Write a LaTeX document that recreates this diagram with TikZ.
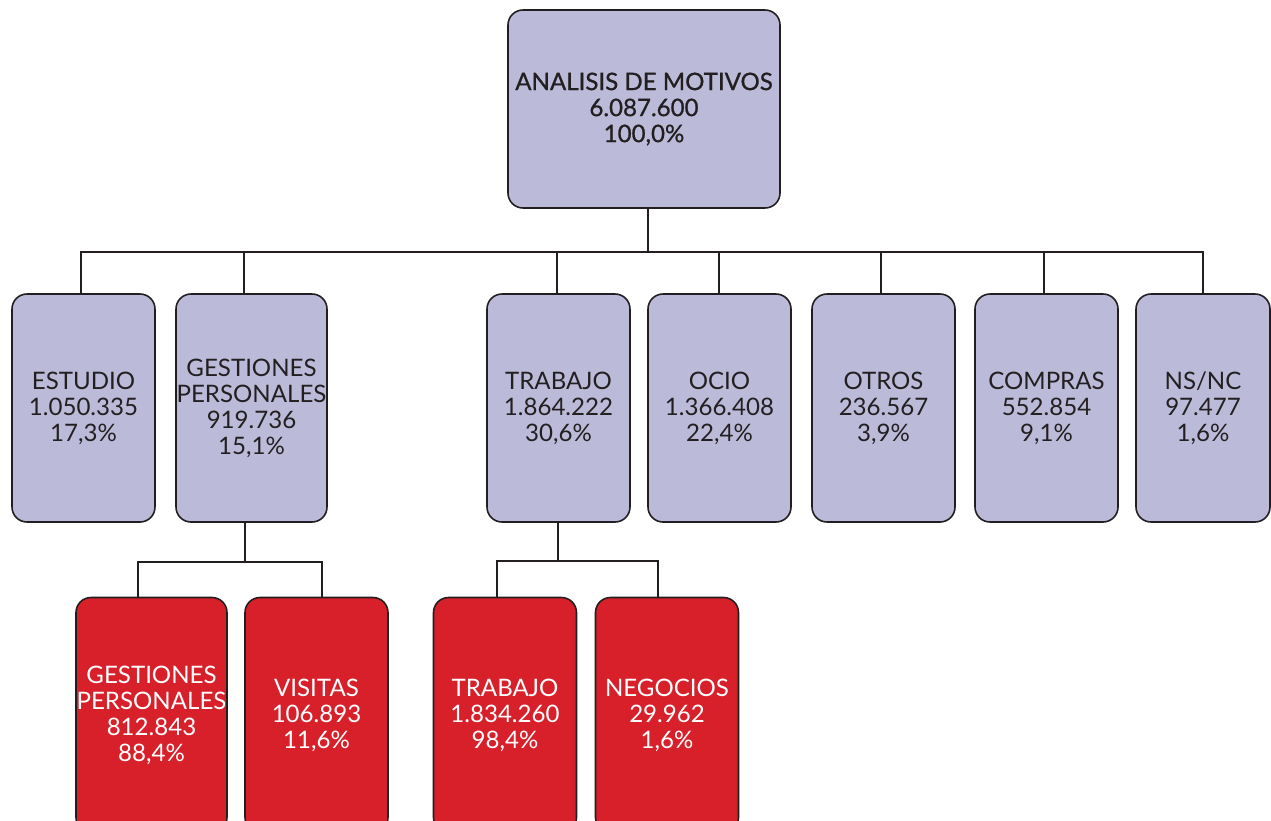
\documentclass[tikz,border=0pt]{standalone}
\usepackage{fontspec}
\setmainfont{Lato}
\newfontfamily\rootfont[FakeBold=0.9]{Lato}
\usepackage{tikz}
\definecolor{hexcolor0xbbbbd9}{rgb}{0.733,0.733,0.851}
\definecolor{hexcolor0xd8202a}{rgb}{0.847,0.125,0.165}
\definecolor{myblack}{rgb}{0.137,0.122,0.125}
\definecolor{mywhite}{rgb}{1.000,1.000,1.000}
\tikzstyle{box}=[rectangle,rounded corners=0.3cm,draw=myblack,line width=0.9pt,align=center,inner sep=0pt,font=\fontsize{13.7}{14.8}\selectfont]
\tikzstyle{setA}=[box,fill=hexcolor0xbbbbd9,text=myblack,minimum width=2.86cm,minimum height=4.56cm]
\tikzstyle{setB}=[box,fill=hexcolor0xd8202a,text=mywhite,minimum width=2.86cm,minimum height=4.7cm]
\tikzstyle{edge}=[draw=myblack,line width=1pt]

\begin{document}
\begin{tikzpicture}
	\useasboundingbox (0,0) rectangle (25.42,-16.42);
	\clip (0,0) rectangle (25.42,-16.42);
	% root
	\node [style=setA,minimum width=5.44cm,minimum height=3.96cm,font=\rootfont\fontsize{13.7}{14.8}\selectfont] (0) at (12.88,-2.18) {ANALISIS DE MOTIVOS\\6.087.600\\100,0\%};
	% first level
	\node [style=setA] (1) at (1.67,-8.16) {ESTUDIO\\1.050.335\\17,3\%};
	\node [style=setA,minimum width=3.02cm] (2) at (5.03,-8.16) {GESTIONES\\PERSONALES\\919.736\\15,1\%};
	\node [style=setA] (3) at (11.17,-8.16) {TRABAJO\\1.864.222\\30,6\%};
	\node [style=setA] (4) at (14.39,-8.16) {OCIO\\1.366.408\\22,4\%};
	\node [style=setA] (5) at (17.67,-8.16) {OTROS\\236.567\\3,9\%};
	\node [style=setA] (6) at (20.93,-8.16) {COMPRAS\\552.854\\9,1\%};
	\node [style=setA,minimum width=2.68cm] (7) at (24.06,-8.16) {NS/NC\\97.477\\1,6\%};
	% second level
	\node [style=setB,minimum width=3.02cm] (8) at (3.03,-14.30) {GESTIONES\\PERSONALES\\812.843\\88,4\%};
	\node [style=setB] (9) at (6.33,-14.30) {VISITAS\\106.893\\11,6\%};
	\node [style=setB] (10) at (10.10,-14.30) {TRABAJO\\1.834.260\\98,4\%};
	\node [style=setB] (11) at (13.34,-14.30) {NEGOCIOS\\29.962\\1,6\%};

	\coordinate (b0) at (12.96,-5.04);
	\coordinate (b2) at (4.90,-11.24);
	\coordinate (b3) at (11.16,-11.22);
	\draw [style=edge] (b0 |- 0.south) -- (b0);
	\foreach \n/\s in {1/-0.05,2/-0.15,3/-0.03,4/-0.01,5/-0.05,6/-0.05,7/0}
		\draw [style=edge] (b0) -| ([xshift=\s cm]\n.north);
	\draw [style=edge] (b2 |- 2.south) -- (b2);
	\draw [style=edge] (b2) -| ([xshift=-0.27cm]8.north);
	\draw [style=edge] (b2) -| ([xshift=0.11cm]9.north);
	\draw [style=edge] (b3 |- 3.south) -- (b3);
	\draw [style=edge] (b3) -| ([xshift=-0.16cm]10.north);
	\draw [style=edge] (b3) -| ([xshift=-0.18cm]11.north);
\end{tikzpicture}
\end{document}
